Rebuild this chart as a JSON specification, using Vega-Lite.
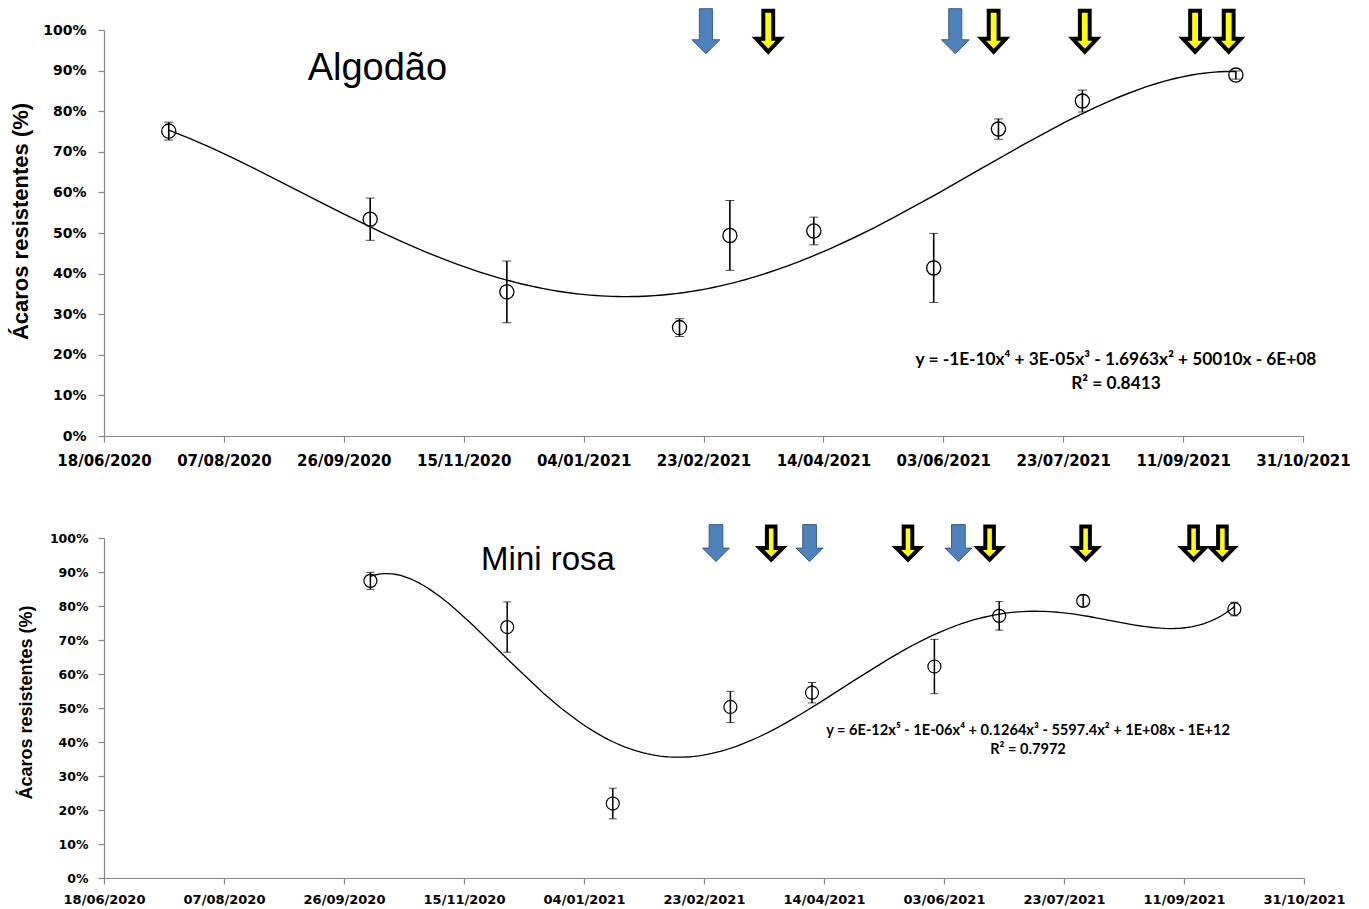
{
  "$schema": "https://vega.github.io/schema/vega-lite/v6.json",
  "background": "white",
  "padding": {"left": 9, "top": 2, "right": 5, "bottom": 5},
  "bounds": "flush",
  "spacing": 102,
  "config": {
    "view": {"stroke": null},
    "axis": {
      "grid": false,
      "domainColor": "#868686",
      "tickColor": "#868686",
      "domainWidth": 1.2,
      "tickWidth": 1.2,
      "tickSize": 6,
      "labelFont": "DejaVu Sans",
      "labelFontWeight": "bold",
      "labelColor": "black",
      "labelFlush": false,
      "labelOverlap": false,
      "labelBound": false,
      "titleFont": "Liberation Sans",
      "titleFontWeight": "bold",
      "titleColor": "black"
    }
  },
  "datasets": {
    "algodao": [
      {"date": "2020-07-15", "v": 0.751, "err": 0.022},
      {"date": "2020-10-07", "v": 0.534, "err": 0.052},
      {"date": "2020-12-03", "v": 0.355, "err": 0.076},
      {"date": "2021-02-13", "v": 0.267, "err": 0.022},
      {"date": "2021-03-06", "v": 0.494, "err": 0.086},
      {"date": "2021-04-10", "v": 0.505, "err": 0.034},
      {"date": "2021-05-30", "v": 0.414, "err": 0.085},
      {"date": "2021-06-26", "v": 0.756, "err": 0.025},
      {"date": "2021-07-31", "v": 0.825, "err": 0.027},
      {"date": "2021-10-03", "v": 0.889, "err": 0.010}
    ],
    "minirosa": [
      {"date": "2020-10-07", "v": 0.874, "err": 0.025},
      {"date": "2020-12-03", "v": 0.738, "err": 0.074},
      {"date": "2021-01-16", "v": 0.219, "err": 0.045},
      {"date": "2021-03-06", "v": 0.503, "err": 0.046},
      {"date": "2021-04-09", "v": 0.545, "err": 0.030},
      {"date": "2021-05-30", "v": 0.622, "err": 0.080},
      {"date": "2021-06-26", "v": 0.771, "err": 0.042},
      {"date": "2021-07-31", "v": 0.815, "err": 0.016},
      {"date": "2021-10-02", "v": 0.791, "err": 0.020}
    ],
    "arrows_top": [
      {"date": "2021-02-24", "v": 0.997, "kind": "blue"},
      {"date": "2021-06-08", "v": 0.997, "kind": "blue"},
      {"date": "2021-03-22", "v": 0.997, "kind": "yellow"},
      {"date": "2021-06-24", "v": 0.997, "kind": "yellow"},
      {"date": "2021-08-01", "v": 0.997, "kind": "yellow"},
      {"date": "2021-09-16", "v": 0.997, "kind": "yellow"},
      {"date": "2021-09-30", "v": 0.997, "kind": "yellow"}
    ],
    "arrows_bottom": [
      {"date": "2021-02-28", "v": 0.985, "kind": "blue"},
      {"date": "2021-04-08", "v": 0.985, "kind": "blue"},
      {"date": "2021-06-09", "v": 0.985, "kind": "blue"},
      {"date": "2021-03-23", "v": 0.985, "kind": "yellow"},
      {"date": "2021-05-19", "v": 0.985, "kind": "yellow"},
      {"date": "2021-06-22", "v": 0.985, "kind": "yellow"},
      {"date": "2021-08-01", "v": 0.985, "kind": "yellow"},
      {"date": "2021-09-15", "v": 0.985, "kind": "yellow"},
      {"date": "2021-09-27", "v": 0.985, "kind": "yellow"}
    ],
    "labels_top": [
      {"date": "2020-10-10", "v": 0.903, "kind": "title", "text": "Algodão"},
      {"date": "2021-08-14", "v": 0.188, "kind": "eq", "text": "y = -1E-10x⁴ + 3E-05x³ - 1.6963x² + 50010x - 6E+08"},
      {"date": "2021-08-14", "v": 0.129, "kind": "eq", "text": "R² = 0.8413"}
    ],
    "labels_bottom": [
      {"date": "2020-12-20", "v": 0.935, "kind": "title", "text": "Mini rosa"},
      {"date": "2021-07-08", "v": 0.432, "kind": "eq", "text": "y = 6E-12x⁵ - 1E-06x⁴ + 0.1264x³ - 5597.4x² + 1E+08x - 1E+12"},
      {"date": "2021-07-08", "v": 0.376, "kind": "eq", "text": "R² = 0.7972"}
    ]
  },
  "vconcat": [
    {
      "width": 1199,
      "height": 406,
      "encoding": {
        "x": {
          "field": "date", "type": "temporal",
          "scale": {"type": "utc", "domain": [{"year": 2020, "month": 6, "date": 18, "utc": true}, {"year": 2021, "month": 10, "date": 31, "utc": true}]},
          "axis": {
            "title": null, "format": "%d/%m/%Y", "labelFontSize": 15, "labelPadding": 11,
            "values": [
              {"year": 2020, "month": 6, "date": 18, "utc": true},
              {"year": 2020, "month": 8, "date": 7, "utc": true},
              {"year": 2020, "month": 9, "date": 26, "utc": true},
              {"year": 2020, "month": 11, "date": 15, "utc": true},
              {"year": 2021, "month": 1, "date": 4, "utc": true},
              {"year": 2021, "month": 2, "date": 23, "utc": true},
              {"year": 2021, "month": 4, "date": 14, "utc": true},
              {"year": 2021, "month": 6, "date": 3, "utc": true},
              {"year": 2021, "month": 7, "date": 23, "utc": true},
              {"year": 2021, "month": 9, "date": 11, "utc": true},
              {"year": 2021, "month": 10, "date": 31, "utc": true}
            ]
          }
        },
        "y": {
          "field": "v", "type": "quantitative",
          "scale": {"domain": [0, 1]},
          "axis": {"title": "Ácaros resistentes (%)", "format": ".0%", "values": [0, 0.1, 0.2, 0.3, 0.4, 0.5, 0.6, 0.7, 0.8, 0.9, 1], "labelFontSize": 14, "titleFontSize": 22, "labelPadding": 12, "titlePadding": 10, "titleY": 191}
        }
      },
      "layer": [
        {
          "data": {"name": "algodao", "format": {"parse": {"date": "date"}}},
          "transform": [{"regression": "v", "on": "date", "method": "poly", "order": 4}],
          "mark": {"type": "line", "color": "black", "strokeWidth": 1.4}
        },
        {
          "data": {"name": "algodao", "format": {"parse": {"date": "date"}}},
          "mark": {"type": "errorbar", "color": "black", "ticks": {"size": 9, "strokeWidth": 1.6}, "rule": {"strokeWidth": 1.6}},
          "encoding": {"yError": {"field": "err"}}
        },
        {
          "data": {"name": "algodao", "format": {"parse": {"date": "date"}}},
          "mark": {"type": "point", "shape": "circle", "size": 200, "stroke": "black", "strokeWidth": 1.3, "fill": null, "opacity": 1}
        },
        {
          "data": {"name": "arrows_top", "format": {"parse": {"date": "date"}}},
          "transform": [{"filter": "datum.kind === 'blue'"}],
          "mark": {"type": "point", "shape": "M-0.29,-1 L0.29,-1 L0.29,0.38 L0.62,0.38 L0,1 L-0.62,0.38 L-0.29,0.38 Z", "size": 2025, "filled": true, "fill": "#4F81BD", "stroke": "#385D8A", "strokeWidth": 1, "opacity": 1}
        },
        {
          "data": {"name": "arrows_top", "format": {"parse": {"date": "date"}}},
          "transform": [{"filter": "datum.kind === 'yellow'"}],
          "mark": {"type": "point", "shape": "M-0.24,-1 L0.24,-1 L0.24,0.37 L0.59,0.37 L0,1 L-0.59,0.37 L-0.24,0.37 Z", "size": 1681, "filled": true, "fill": "#FFFF00", "stroke": "black", "strokeWidth": 4, "strokeJoin": "miter", "opacity": 1}
        },
        {
          "data": {"name": "labels_top", "format": {"parse": {"date": "date"}}},
          "transform": [{"filter": "datum.kind === 'title'"}],
          "mark": {"type": "text", "font": "Liberation Sans", "fontSize": 38, "color": "black", "align": "center", "baseline": "middle"},
          "encoding": {"text": {"field": "text"}}
        },
        {
          "data": {"name": "labels_top", "format": {"parse": {"date": "date"}}},
          "transform": [{"filter": "datum.kind === 'eq'"}],
          "mark": {"type": "text", "font": "Lato", "fontWeight": "bold", "fontSize": 17.3, "color": "black", "align": "center", "baseline": "middle"},
          "encoding": {"text": {"field": "text"}}
        }
      ]
    },
    {
      "width": 1200,
      "height": 340,
      "encoding": {
        "x": {
          "field": "date", "type": "temporal",
          "scale": {"type": "utc", "domain": [{"year": 2020, "month": 6, "date": 18, "utc": true}, {"year": 2021, "month": 10, "date": 31, "utc": true}]},
          "axis": {
            "title": null, "format": "%d/%m/%Y", "labelFontSize": 13, "labelPadding": 9,
            "values": [
              {"year": 2020, "month": 6, "date": 18, "utc": true},
              {"year": 2020, "month": 8, "date": 7, "utc": true},
              {"year": 2020, "month": 9, "date": 26, "utc": true},
              {"year": 2020, "month": 11, "date": 15, "utc": true},
              {"year": 2021, "month": 1, "date": 4, "utc": true},
              {"year": 2021, "month": 2, "date": 23, "utc": true},
              {"year": 2021, "month": 4, "date": 14, "utc": true},
              {"year": 2021, "month": 6, "date": 3, "utc": true},
              {"year": 2021, "month": 7, "date": 23, "utc": true},
              {"year": 2021, "month": 9, "date": 11, "utc": true},
              {"year": 2021, "month": 10, "date": 31, "utc": true}
            ]
          }
        },
        "y": {
          "field": "v", "type": "quantitative",
          "scale": {"domain": [0, 1]},
          "axis": {"title": "Ácaros resistentes (%)", "format": ".0%", "values": [0, 0.1, 0.2, 0.3, 0.4, 0.5, 0.6, 0.7, 0.8, 0.9, 1], "labelFontSize": 12.5, "titleFontSize": 18, "labelPadding": 10, "titlePadding": 14, "titleY": 164}
        }
      },
      "layer": [
        {
          "data": {"name": "minirosa", "format": {"parse": {"date": "date"}}},
          "transform": [{"regression": "v", "on": "date", "method": "poly", "order": 5}],
          "mark": {"type": "line", "color": "black", "strokeWidth": 1.3}
        },
        {
          "data": {"name": "minirosa", "format": {"parse": {"date": "date"}}},
          "mark": {"type": "errorbar", "color": "black", "ticks": {"size": 8, "strokeWidth": 1.5}, "rule": {"strokeWidth": 1.5}},
          "encoding": {"yError": {"field": "err"}}
        },
        {
          "data": {"name": "minirosa", "format": {"parse": {"date": "date"}}},
          "mark": {"type": "point", "shape": "circle", "size": 170, "stroke": "black", "strokeWidth": 1.2, "fill": null, "opacity": 1}
        },
        {
          "data": {"name": "arrows_bottom", "format": {"parse": {"date": "date"}}},
          "transform": [{"filter": "datum.kind === 'blue'"}],
          "mark": {"type": "point", "shape": "M-0.37,-1 L0.37,-1 L0.37,0.27 L0.73,0.27 L0,1 L-0.73,0.27 L-0.37,0.27 Z", "size": 1369, "filled": true, "fill": "#4F81BD", "stroke": "#385D8A", "strokeWidth": 1, "opacity": 1}
        },
        {
          "data": {"name": "arrows_bottom", "format": {"parse": {"date": "date"}}},
          "transform": [{"filter": "datum.kind === 'yellow'"}],
          "mark": {"type": "point", "shape": "M-0.26,-1 L0.26,-1 L0.26,0.3 L0.7,0.3 L0,1 L-0.7,0.3 L-0.26,0.3 Z", "size": 1089, "filled": true, "fill": "#FFFF00", "stroke": "black", "strokeWidth": 4, "strokeJoin": "miter", "opacity": 1}
        },
        {
          "data": {"name": "labels_bottom", "format": {"parse": {"date": "date"}}},
          "transform": [{"filter": "datum.kind === 'title'"}],
          "mark": {"type": "text", "font": "Liberation Sans", "fontSize": 33, "color": "black", "align": "center", "baseline": "middle"},
          "encoding": {"text": {"field": "text"}}
        },
        {
          "data": {"name": "labels_bottom", "format": {"parse": {"date": "date"}}},
          "transform": [{"filter": "datum.kind === 'eq'"}],
          "mark": {"type": "text", "font": "Lato", "fontWeight": "bold", "fontSize": 14.6, "color": "black", "align": "center", "baseline": "middle"},
          "encoding": {"text": {"field": "text"}}
        }
      ]
    }
  ]
}
